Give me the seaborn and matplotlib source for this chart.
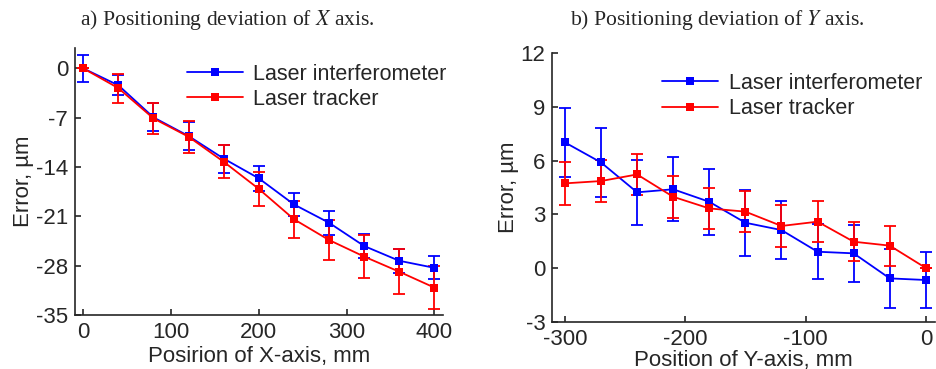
import numpy as np
import pandas as pd
import seaborn as sns
import matplotlib.pyplot as plt

# X axis data (mm, um)
x_pos = [0, 40, 80, 120, 160, 200, 240, 280, 320, 360, 400]
x_interf = [0, -2.4, -6.95, -9.6, -12.8, -15.6, -19.3, -21.9, -25.2, -27.3, -28.3]
x_interf_err = [1.9, 1.4, 2.0, 2.0, 2.0, 1.8, 1.6, 1.7, 1.75, 1.7, 1.65]
x_tracker = [0, -2.8, -7.1, -9.7, -13.25, -17.1, -21.4, -24.35, -26.7, -28.85, -31.1]
x_tracker_err = [0, 2.05, 2.2, 2.25, 2.35, 2.4, 2.6, 2.8, 3.0, 3.2, 3.0]

# Y axis data (mm, um)
y_pos = [-300, -270, -240, -210, -180, -150, -120, -90, -60, -30, 0]
y_interf = [7.02, 5.9, 4.23, 4.4, 3.7, 2.53, 2.12, 0.91, 0.82, -0.58, -0.67]
y_interf_err = [1.95, 1.93, 1.8, 1.78, 1.86, 1.85, 1.64, 1.55, 1.58, 1.64, 1.54]
y_tracker = [4.73, 4.86, 5.23, 3.98, 3.33, 3.15, 2.35, 2.59, 1.47, 1.25, 0.0]
y_tracker_err = [1.19, 1.15, 1.13, 1.17, 1.15, 1.15, 1.15, 1.13, 1.1, 1.12, 0]

labels = ["Laser interferometer", "Laser tracker"]
colors = {"Laser interferometer": "#0000ff", "Laser tracker": "#ff0000"}

sns.set_style("ticks")
plt.rcParams['font.family'] = ['Liberation Sans', 'DejaVu Sans']
plt.rcParams['mathtext.fontset'] = 'stix'
plt.rcParams['axes.unicode_minus'] = False

fig = plt.figure(figsize=(9.37, 3.69), dpi=100)
ax1 = fig.add_axes([0.080, 0.1463, 0.3928, 0.7237])
ax2 = fig.add_axes([0.5894, 0.1282, 0.4086, 0.7274])


def panel(ax, pos, a, a_err, b, b_err):
    df = pd.DataFrame({
        'pos': pos + pos,
        'err': a + b,
        'src': [labels[0]] * len(pos) + [labels[1]] * len(pos),
    })
    for lab, vals, errs in [(labels[0], a, a_err), (labels[1], b, b_err)]:
        ax.errorbar(pos, vals, yerr=errs, fmt='none', ecolor=colors[lab],
                    elinewidth=1.3, capsize=4, capthick=1.3, zorder=2)
    sns.lineplot(data=df, x='pos', y='err', hue='src', palette=colors,
                 marker='s', markersize=6, markeredgewidth=0, linewidth=1.3,
                 ax=ax, zorder=3)
    leg = ax.legend(frameon=False, fontsize=15.5, handlelength=2.6,
                    handletextpad=0.5, labelspacing=0.2, borderaxespad=0.2)
    for spine in ['top', 'right']:
        ax.spines[spine].set_visible(False)
    for spine in ['left', 'bottom']:
        ax.spines[spine].set_linewidth(1.2)
    ax.tick_params(direction='in', length=4, width=1.2, labelsize=16, pad=5)
    return leg


leg1 = panel(ax1, x_pos, x_interf, x_interf_err, x_tracker, x_tracker_err)
ax1.set_xlim(-9.5, 410)
ax1.set_ylim(-35, 2.9)
ax1.set_xticks([0, 100, 200, 300, 400])
ax1.set_yticks([0, -7, -14, -21, -28, -35])
ax1.set_xlabel('Posirion of X-axis, mm', fontsize=16, labelpad=2)
ax1.set_ylabel('Error, µm', fontsize=16, labelpad=1)
leg1.set_bbox_to_anchor((1.045, 0.99), transform=ax1.transAxes)
leg1._loc = 1

leg2 = panel(ax2, y_pos, y_interf, y_interf_err, y_tracker, y_tracker_err)
ax2.set_xlim(-310.5, 7.7)
ax2.set_ylim(-3, 12)
ax2.set_xticks([-300, -200, -100, 0])
ax2.set_yticks([-3, 0, 3, 6, 9, 12])
ax2.set_xlabel('Position of Y-axis, mm', fontsize=16, labelpad=0)
ax2.set_ylabel('Error, µm', fontsize=16, labelpad=1)
leg2.set_bbox_to_anchor((1.0, 0.975), transform=ax2.transAxes)
leg2._loc = 1

fig.text(0.243, 0.945, 'a) Positioning deviation of $X$ axis.', ha='center', va='center',
         fontsize=15.6, family='Liberation Serif')
fig.text(0.766, 0.945, 'b) Positioning deviation of $Y$ axis.', ha='center', va='center',
         fontsize=15.6, family='Liberation Serif')

fig.savefig('out.png', dpi=100)
